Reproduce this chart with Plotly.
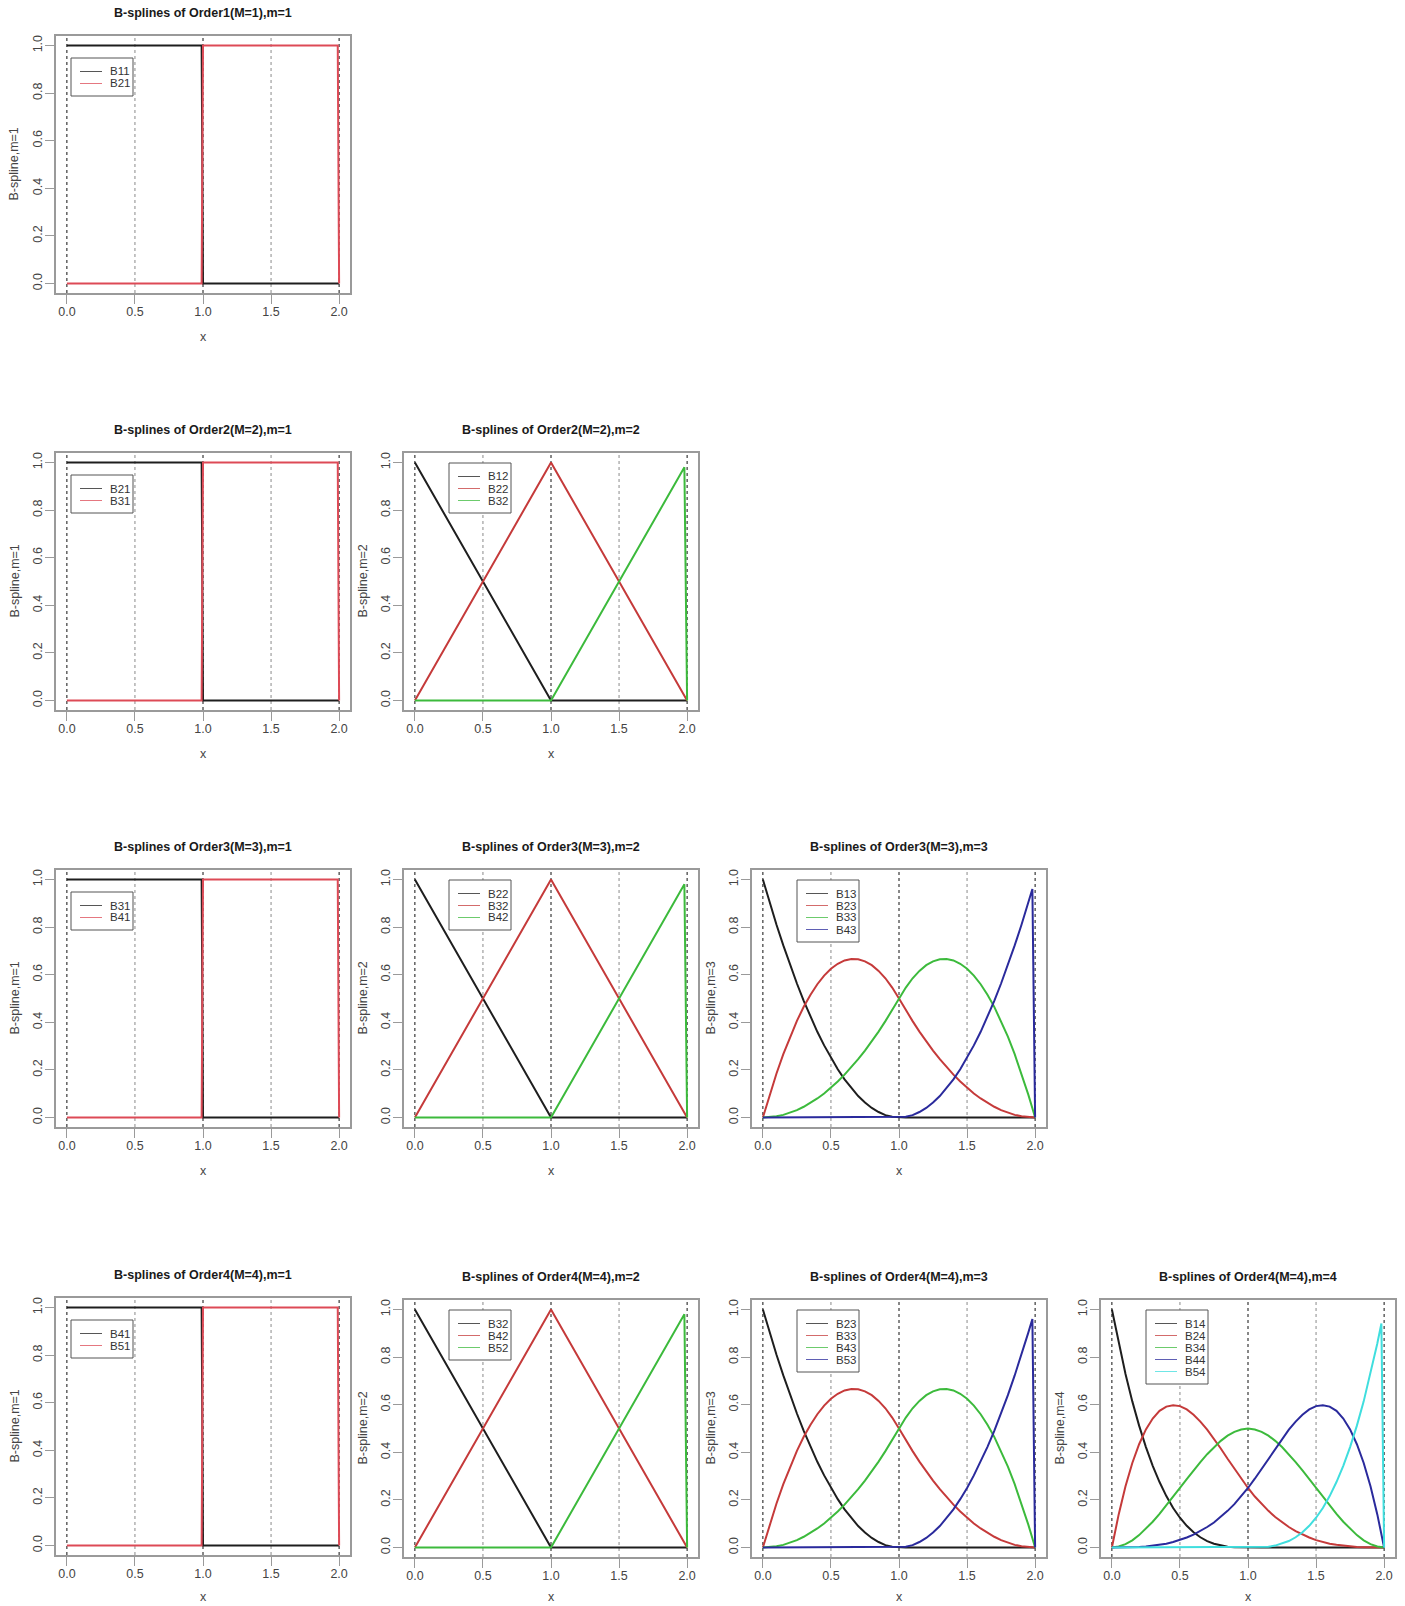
import plotly.graph_objects as go

# ---------------------------------------------------------------- data
# Evaluation grids
x_m1 = [0.0, 0.99, 1.0, 1.99, 2.0]
x_m2 = [0.0, 0.5, 1.0, 1.5, 1.98, 2.0]
x_grid = [0.00, 0.05, 0.10, 0.15, 0.20, 0.25, 0.30, 0.35, 0.40, 0.45,
          0.50, 0.55, 0.60, 0.65, 0.70, 0.75, 0.80, 0.85, 0.90, 0.95,
          1.00, 1.05, 1.10, 1.15, 1.20, 1.25, 1.30, 1.35, 1.40, 1.45,
          1.50, 1.55, 1.60, 1.65, 1.70, 1.75, 1.80, 1.85, 1.90, 1.95,
          1.98, 2.00]

# m = 1 basis (piecewise constant)
m1_b1 = [1, 1, 0, 0, 0]
m1_b2 = [0, 0, 1, 1, 0]

# m = 2 basis (piecewise linear)
m2_b1 = [1.0, 0.5, 0.0, 0.0, 0.0, 0.0]
m2_b2 = [0.0, 0.5, 1.0, 0.5, 0.02, 0.0]
m2_b3 = [0.0, 0.0, 0.0, 0.5, 0.98, 0.0]

# m = 3 basis (piecewise quadratic)
m3_b1 = [1.000, .903, .810, .723, .640, .563, .490, .423, .360, .303,
         .250, .203, .160, .123, .090, .063, .040, .023, .010, .003,
         0, 0, 0, 0, 0, 0, 0, 0, 0, 0,
         0, 0, 0, 0, 0, 0, 0, 0, 0, 0,
         0, 0]
m3_b2 = [0, .096, .185, .266, .340, .406, .465, .516, .560, .596,
         .625, .646, .660, .666, .665, .656, .640, .616, .585, .546,
         .500, .451, .405, .361, .320, .281, .245, .211, .180, .151,
         .125, .101, .080, .061, .045, .031, .020, .011, .005, .001,
         0, 0]
m3_b3 = [0, .001, .005, .011, .020, .031, .045, .061, .080, .101,
         .125, .151, .180, .211, .245, .281, .320, .361, .405, .451,
         .500, .546, .585, .616, .640, .656, .665, .666, .660, .646,
         .625, .596, .560, .516, .465, .406, .340, .266, .185, .096,
         .039, 0]
m3_b4 = [0, 0, 0, 0, 0, 0, 0, 0, 0, 0,
         0, 0, 0, 0, 0, 0, 0, 0, 0, 0,
         0, .003, .010, .023, .040, .063, .090, .123, .160, .203,
         .250, .303, .360, .423, .490, .563, .640, .723, .810, .903,
         .960, 0]

# m = 4 basis (piecewise cubic)
m4_b1 = [1.000, .857, .729, .614, .512, .422, .343, .275, .216, .166,
         .125, .091, .064, .043, .027, .016, .008, .003, .001, 0,
         0, 0, 0, 0, 0, 0, 0, 0, 0, 0,
         0, 0, 0, 0, 0, 0, 0, 0, 0, 0,
         0, 0]
m4_b2 = [0, .139, .257, .355, .434, .496, .542, .574, .592, .598,
         .594, .580, .558, .529, .495, .457, .416, .373, .331, .289,
         .250, .214, .182, .154, .128, .105, .086, .069, .054, .042,
         .031, .023, .016, .011, .007, .004, .002, .001, 0, 0,
         0, 0]
m4_b3 = [0, .004, .014, .030, .052, .078, .108, .141, .176, .213,
         .250, .287, .324, .359, .392, .422, .448, .470, .486, .496,
         .500, .496, .486, .470, .448, .422, .392, .359, .324, .287,
         .250, .213, .176, .141, .108, .078, .052, .030, .014, .004,
         .001, 0]
m4_b4 = [0, 0, 0, .001, .002, .004, .007, .011, .016, .023,
         .031, .042, .054, .069, .086, .105, .128, .154, .182, .214,
         .250, .289, .331, .373, .416, .457, .495, .529, .558, .580,
         .594, .598, .592, .574, .542, .496, .434, .355, .257, .139,
         .058, 0]
m4_b5 = [0, 0, 0, 0, 0, 0, 0, 0, 0, 0,
         0, 0, 0, 0, 0, 0, 0, 0, 0, 0,
         0, 0, .001, .003, .008, .016, .027, .043, .064, .091,
         .125, .166, .216, .275, .343, .422, .512, .614, .729, .857,
         .941, 0]

# Legend labels for each (M, m) panel
labels_M1_m1 = ["B11", "B21"]
labels_M2_m1 = ["B21", "B31"]
labels_M2_m2 = ["B12", "B22", "B32"]
labels_M3_m1 = ["B31", "B41"]
labels_M3_m2 = ["B22", "B32", "B42"]
labels_M3_m3 = ["B13", "B23", "B33", "B43"]
labels_M4_m1 = ["B41", "B51"]
labels_M4_m2 = ["B32", "B42", "B52"]
labels_M4_m3 = ["B23", "B33", "B43", "B53"]
labels_M4_m4 = ["B14", "B24", "B34", "B44", "B54"]

knots = [0.0, 1.0, 2.0]
midpoints = [0.5, 1.5]
x_ticks = [0.0, 0.5, 1.0, 1.5, 2.0]
x_ticktext = ["0.0", "0.5", "1.0", "1.5", "2.0"]
y_ticks = [0.0, 0.2, 0.4, 0.6, 0.8, 1.0]
y_ticktext = ["0.0", "0.2", "0.4", "0.6", "0.8", "1.0"]

# ---------------------------------------------------------------- tables
basis = {
    1: (x_m1, [m1_b1, m1_b2]),
    2: (x_m2, [m2_b1, m2_b2, m2_b3]),
    3: (x_grid, [m3_b1, m3_b2, m3_b3, m3_b4]),
    4: (x_grid, [m4_b1, m4_b2, m4_b3, m4_b4, m4_b5]),
}
labels = {
    (1, 1): labels_M1_m1,
    (2, 1): labels_M2_m1, (2, 2): labels_M2_m2,
    (3, 1): labels_M3_m1, (3, 2): labels_M3_m2, (3, 3): labels_M3_m3,
    (4, 1): labels_M4_m1, (4, 2): labels_M4_m2, (4, 3): labels_M4_m3,
    (4, 4): labels_M4_m4,
}

# ---------------------------------------------------------------- styling
W, H = 1405, 1606
COL_LEFT = [56, 404, 752, 1101]
ROW_TOP = [36, 453, 870, 1300]
FW, FH = 294, 257
FONT = "Liberation Sans, Arial, sans-serif"
COLORS = ["#1e1e1e", "#c53a3a", "#3cba3c", "#2a2a9c", "#3fdede"]
RED_M1 = "#dd4a56"
FRAME = "#9a9a9a"


def px(v):
    return v / W


def py(v):
    return 1 - v / H


fig = go.Figure()
shapes, annotations = [], []
layout = {}

k = 0
for M in range(1, 5):
    for m in range(1, M + 1):
        k += 1
        sfx = "" if k == 1 else str(k)
        L = COL_LEFT[m - 1]
        T = ROW_TOP[M - 1] - (2 if (M == 4 and m == 1) else 0)
        xa, ya = f"x{sfx}", f"y{sfx}"
        xs, curves = basis[m]
        cols = list(COLORS)
        if m == 1:
            cols[1] = RED_M1

        for j, ys in enumerate(curves):
            assert len(ys) == len(xs)
            fig.add_trace(go.Scatter(
                x=xs, y=ys, mode="lines", xaxis=xa, yaxis=ya,
                line=dict(color=cols[j], width=2),
                showlegend=False, hoverinfo="skip"))

        axis_common = dict(
            ticks="outside", ticklen=9, tickwidth=1.3, tickcolor=FRAME,
            showline=True, linecolor=FRAME, linewidth=1.5, mirror=True,
            showgrid=False, zeroline=False,
            tickfont=dict(family=FONT, size=12.5, color="#444"),
        )
        layout[f"xaxis{sfx}"] = dict(
            domain=[px(L), px(L + FW)], anchor=ya, range=[-0.08, 2.08],
            tickvals=x_ticks, ticktext=x_ticktext, ticklabelstandoff=-3,
            **axis_common)
        layout[f"yaxis{sfx}"] = dict(
            domain=[py(T + FH), py(T)], anchor=xa, range=[-0.04, 1.04],
            tickvals=y_ticks, ticktext=y_ticktext, tickangle=-90,
            ticklabelstandoff=-2, **axis_common)

        # dashed reference lines at knots and half-knots
        for v in knots:
            shapes.append(dict(type="line", xref=xa, yref=f"{ya} domain",
                               x0=v, x1=v, y0=0, y1=1, layer="below",
                               line=dict(color="#111", width=1, dash="3px,3px")))
        for v in midpoints:
            shapes.append(dict(type="line", xref=xa, yref=f"{ya} domain",
                               x0=v, x1=v, y0=0, y1=1, layer="below",
                               line=dict(color="#8a8a8a", width=1, dash="3px,3px")))

        # titles
        cx = L + FW / 2
        annotations.append(dict(
            text=f"<b>B-splines of Order{M}(M={M}),m={m}</b>",
            x=px(cx), y=py(T - 23), xref="paper", yref="paper",
            xanchor="center", yanchor="middle", showarrow=False,
            font=dict(family=FONT, size=12.5, color="#1a1a1a")))
        annotations.append(dict(
            text="x", x=px(cx), y=py(min(T + FH + 44, H - 9)),
            xref="paper", yref="paper",
            xanchor="center", yanchor="middle", showarrow=False,
            font=dict(family=FONT, size=12.5, color="#444")))
        annotations.append(dict(
            text=f"B-spline,m={m}", x=px(L - 42), y=py(T + FH / 2),
            xref="paper", yref="paper", textangle=-90,
            xanchor="center", yanchor="middle", showarrow=False,
            font=dict(family=FONT, size=12.5, color="#444")))

        # legend box
        names = labels[(M, m)]
        n = len(names)
        bl = L + (15 if m == 1 else 45)
        bt = T + (22 if m == 1 else 10)
        shapes.append(dict(type="rect", xref="paper", yref="paper",
                           x0=px(bl), x1=px(bl + 62),
                           y0=py(bt), y1=py(bt + 14 + 12 * n),
                           line=dict(color="#555", width=1),
                           fillcolor="white", layer="above"))
        for i, name in enumerate(names):
            yy = bt + 13.5 + 12 * i
            shapes.append(dict(type="line", xref="paper", yref="paper",
                               x0=px(bl + 9), x1=px(bl + 31),
                               y0=py(yy), y1=py(yy), layer="above",
                               line=dict(color=cols[i], width=1), opacity=0.75))
            annotations.append(dict(
                text=name, x=px(bl + 37), y=py(yy), xref="paper", yref="paper",
                xanchor="left", yanchor="middle", showarrow=False,
                font=dict(family=FONT, size=11.5, color="#333")))

fig.update_layout(
    width=W, height=H, margin=dict(l=0, r=0, t=0, b=0),
    paper_bgcolor="white", plot_bgcolor="white",
    showlegend=False, shapes=shapes, annotations=annotations,
    **layout)

fig.write_html("out.html")
